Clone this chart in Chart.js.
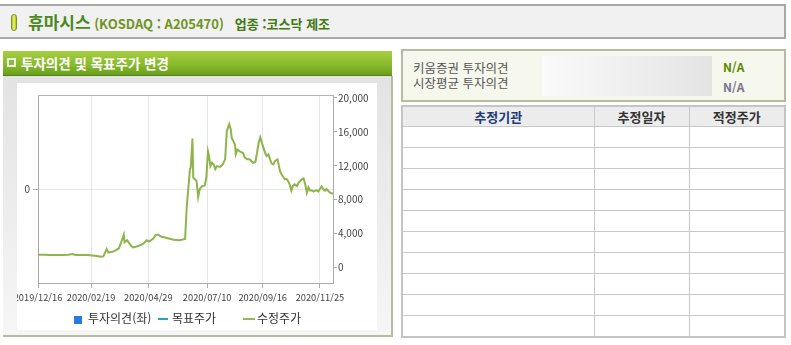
<!DOCTYPE html>
<html lang="ko">
<head>
<meta charset="utf-8">
<script src="https://cdn.jsdelivr.net/npm/chart.js@4.4.1/dist/chart.umd.min.js"></script>
<style>
  body { margin: 0; width: 791px; height: 345px; background: #fff; font-family: 'Noto Sans CJK KR', sans-serif; position: relative; overflow: hidden; }
  .abs { position: absolute; }
  #head { left: 0; top: 4px; width: 784px; height: 31px; background: #f1f1f1; border-top: 2px solid #a8a8a8; border-bottom: 2px solid #a8a8a8; border-right: 2px solid #a8a8a8; }
  #pill { left: 11px; top: 8px; width: 4px; height: 15px; border: 1px solid #7a9620; border-radius: 3px; background: linear-gradient(to right, #b5c832, #eef27a, #a9bf2a); }
  #title { left: 28px; top: 0; height: 31px; line-height: 31px; white-space: nowrap; font-weight: bold; }
  #greenbar { left: 3px; top: 51px; width: 389px; height: 24px; background: linear-gradient(#a6cf3f, #86b92c 60%, #6a9f1c); border-bottom: 1px solid #4f8012; }
  #sq { left: 4px; top: 7px; width: 5px; height: 5px; border: 2px solid #eef4dc; background: #8fba3f; }
  #gtext { left: 18px; top: 0; line-height: 24px; color: #fff; font-weight: bold; font-size: 13.5px; white-space: nowrap; }
  #panel { left: 3px; top: 76px; width: 388px; height: 259px; background: linear-gradient(#e3e3e3, #f6f6f6); border-right: 2px solid #b6bd9f; border-bottom: 2px solid #b6bd9f; }
  #chartbox { left: 17px; top: 83px; width: 360px; height: 247px; overflow: hidden; background: #fff; }
  #chartbox canvas { position: absolute; left: -17px; top: 0; }
  .leg { top: 311px; font-size: 12px; color: #333; line-height: 14px; white-space: nowrap; }
  #opbox { left: 401px; top: 49px; width: 381px; height: 49px; border: 2px solid #b6bd9f; background: #f6f8ee; }
  .optxt { left: 10px; font-size: 12.5px; color: #555; white-space: nowrap; line-height: 15px; }
  #gray { left: 139px; top: 5px; width: 170px; height: 40px; background: linear-gradient(to right, #fafafa, #e4e4e4); }
  .na { left: 320px; font-size: 12px; font-weight: bold; line-height: 14px; }
  table { position: absolute; left: 401px; top: 105px; width: 385px; border-collapse: collapse; border: 2px solid #c4c4c4; table-layout: fixed; }
  td, th { border: 1px solid #c8c8c8; height: 20px; padding: 0; }
  th { background: #ececec; font-size: 13px; font-weight: bold; color: #333; height: 19px; line-height: 18px; }
</style>
</head>
<body>
<div id="head" class="abs">
  <div id="pill" class="abs"></div>
  <div id="title" class="abs"><span style="font-size:17px;color:#4a8a1c;">휴마시스</span><span style="font-size:13px;color:#6f9424;"> (KOSDAQ : A205470)</span><span style="font-size:13px;color:#3f7a12;">&nbsp;&nbsp;&nbsp;업종 :코스닥 제조</span></div>
</div>

<div id="greenbar" class="abs">
  <div id="sq" class="abs"></div>
  <div id="gtext" class="abs">투자의견 및 목표주가 변경</div>
</div>
<div id="panel" class="abs"></div>
<div id="chartbox" class="abs"><canvas id="myChart" width="377" height="247"></canvas></div>

<div class="abs leg" style="left:74px;"><span style="display:inline-block;width:8px;height:8px;background:#2a7ae2;vertical-align:-1px;margin-right:6px;"></span>투자의견(좌)</div>
<div class="abs" style="left:158px;top:318px;width:10px;height:2px;background:#2aa5b8;"></div>
<div class="abs leg" style="left:172px;">목표주가</div>
<div class="abs" style="left:243px;top:318px;width:12px;height:2px;background:#9ab85a;"></div>
<div class="abs leg" style="left:257px;">수정주가</div>

<div id="opbox" class="abs">
  <div class="abs optxt" style="top:9px;">키움증권 투자의견</div>
  <div class="abs optxt" style="top:24px;">시장평균 투자의견</div>
  <div id="gray" class="abs"></div>
  <div class="abs na" style="top:9px;color:#5b8a00;">N/A</div>
  <div class="abs na" style="top:29px;color:#76768c;">N/A</div>
</div>

<table>
  <colgroup><col style="width:192px"><col style="width:95px"><col></colgroup>
  <tr><th style="color:#1d3b78;">추정기관</th><th>추정일자</th><th>적정주가</th></tr>
  <tr><td></td><td></td><td></td></tr>
  <tr><td></td><td></td><td></td></tr>
  <tr><td></td><td></td><td></td></tr>
  <tr><td></td><td></td><td></td></tr>
  <tr><td></td><td></td><td></td></tr>
  <tr><td></td><td></td><td></td></tr>
  <tr><td></td><td></td><td></td></tr>
  <tr><td></td><td></td><td></td></tr>
  <tr><td></td><td></td><td></td></tr>
  <tr><td></td><td></td><td></td></tr>
</table>

<script>
// price history (수정주가)
const dates = [
  '2019-12-16','2019-12-23','2019-12-31','2020-01-07','2020-01-14','2020-01-22','2020-01-27','2020-01-31',
  '2020-02-07','2020-02-14','2020-02-24','2020-03-02','2020-03-05','2020-03-06','2020-03-09','2020-03-11',
  '2020-03-16','2020-03-20','2020-03-24','2020-03-27','2020-03-30','2020-03-31','2020-04-03','2020-04-07',
  '2020-04-10','2020-04-16','2020-04-23','2020-04-27','2020-04-30','2020-05-05','2020-05-08','2020-05-11',
  '2020-05-15','2020-05-18','2020-05-24','2020-05-30','2020-06-06','2020-06-10','2020-06-13','2020-06-15',
  '2020-06-17','2020-06-19','2020-06-20','2020-06-22','2020-06-23','2020-06-25','2020-06-27','2020-06-29',
  '2020-07-01','2020-07-04','2020-07-07','2020-07-09','2020-07-11','2020-07-12','2020-07-14','2020-07-16',
  '2020-07-18','2020-07-20','2020-07-22','2020-07-26','2020-07-29','2020-08-01','2020-08-03','2020-08-05',
  '2020-08-06','2020-08-08','2020-08-09','2020-08-11','2020-08-13','2020-08-14','2020-08-16','2020-08-19',
  '2020-08-23','2020-08-25','2020-08-28','2020-08-31','2020-09-04','2020-09-07','2020-09-09','2020-09-11',
  '2020-09-13','2020-09-15','2020-09-17','2020-09-19','2020-09-21','2020-09-23','2020-09-25','2020-09-27',
  '2020-09-29','2020-10-01','2020-10-04','2020-10-05','2020-10-07','2020-10-09','2020-10-11','2020-10-13',
  '2020-10-15','2020-10-17','2020-10-19','2020-10-21','2020-10-23','2020-10-25','2020-10-28','2020-10-30',
  '2020-11-01','2020-11-03','2020-11-05','2020-11-07','2020-11-09','2020-11-11','2020-11-13','2020-11-15',
  '2020-11-17','2020-11-19','2020-11-21','2020-11-23','2020-11-25','2020-11-27','2020-11-29','2020-12-01',
  '2020-12-03','2020-12-05','2020-12-07','2020-12-09','2020-12-11'
];
const prices = [
  1500, 1480, 1450, 1470, 1460, 1500, 1560, 1450,
  1470, 1450, 1360, 1250, 1300, 1500, 2150, 1750,
  1830, 2000, 2250, 3000, 3850, 2950, 3200, 2650,
  2350, 2480, 2800, 3200, 3050, 3400, 3800, 3880,
  3600, 3550, 3400, 3250, 3200, 3280, 3350, 7090,
  9430, 11600, 11800, 15200, 10600, 10400, 10200, 8300,
  9250, 9600, 9650, 10600, 13700, 13300, 11950, 12350,
  12150, 11600, 11950, 11850, 12150, 12750, 16050, 16650,
  16900, 16250, 15300, 14900, 14500, 13350, 13900, 13700,
  13500, 12950, 12750, 12750, 12350, 12450, 13500, 14700,
  15350, 14700, 14100, 13500, 13150, 13350, 12750, 12250,
  12150, 12550, 12750, 12350, 11400, 11000, 10700, 10400,
  10450, 10200, 9800, 9050, 9650, 9800, 9600, 10000,
  10200, 10400, 10500, 9800, 8800, 9450, 9050, 9100,
  8950, 9050, 9100, 8950, 9250, 9550, 9250, 9050,
  9250, 9050, 8850, 8750, 8700
];
// no opinion / target price data in this period
const opinions = [];
const targetPrices = [];

const tickDates = ['2019/12/16', '2020/02/19', '2020/04/29', '2020/07/10', '2020/09/16', '2020/11/25'];
const priceTicks = [0, 4000, 8000, 12000, 16000, 20000];

// days since first date
const start = Date.UTC(2019, 11, 16);
function dayOf(s) {
  const p = s.split(/[-\/]/).map(Number);
  return Math.round((Date.UTC(p[0], p[1] - 1, p[2]) - start) / 86400000);
}
const tickDays = tickDates.map(dayOf);

function comma(v) {
  return String(v).replace(/\B(?=(\d{3})+(?!\d))/g, ',');
}

const tickFont = { family: 'Noto Sans CJK KR', size: 10 };

// top edge of the plot frame
const topLine = {
  id: 'topLine',
  beforeDatasetsDraw(c) {
    const a = c.chartArea;
    const g = c.ctx;
    g.save();
    g.strokeStyle = '#b4b4b4';
    g.lineWidth = 1;
    g.beginPath();
    g.moveTo(a.left, a.top + 0.5);
    g.lineTo(a.right, a.top + 0.5);
    g.stroke();
    g.restore();
  }
};

const ctx = document.getElementById('myChart');
const chart = new Chart(ctx, {
  type: 'line',
  data: {
    datasets: [{
      label: '수정주가',
      data: dates.map((d, i) => ({ x: dayOf(d), y: prices[i] })),
      yAxisID: 'yPrice',
      borderColor: '#8db54b',
      borderWidth: 2,
      pointRadius: 0,
      tension: 0
    }, {
      label: '목표주가',
      data: targetPrices,
      yAxisID: 'yPrice',
      borderColor: '#2aa5b8',
      borderWidth: 2,
      pointRadius: 0
    }, {
      label: '투자의견(좌)',
      data: opinions,
      yAxisID: 'yOpinion',
      borderColor: '#2a7ae2',
      pointRadius: 0
    }]
  },
  options: {
    responsive: false,
    animation: false,
    layout: { padding: { top: 12 } },
    plugins: { legend: { display: false }, tooltip: { enabled: false } },
    scales: {
      x: {
        type: 'linear',
        min: 0,
        max: dayOf(dates[dates.length - 1]),
        afterBuildTicks: s => { s.ticks = tickDays.map(v => ({ value: v })); },
        afterFit: s => { s.height = 47; },
        ticks: {
          autoSkip: false,
          maxRotation: 0,
          padding: 4,
          color: '#444',
          font: { family: 'Noto Sans CJK KR', size: 9.3 },
          callback: v => tickDates[tickDays.indexOf(v)]
        },
        grid: { color: '#e6e6e6', tickColor: '#aaa', tickLength: 5 },
        border: { color: '#aaa' }
      },
      yOpinion: {
        position: 'left',
        min: -1,
        max: 1,
        afterBuildTicks: s => { s.ticks = [{ value: 0 }]; },
        afterFit: s => { s.width = 38; },
        ticks: { padding: 3, color: '#444', font: tickFont },
        grid: { color: '#e6e6e6', tickColor: '#aaa', tickLength: 5 },
        border: { color: '#aaa' }
      },
      yPrice: {
        position: 'right',
        min: -1850,
        max: 20350,
        afterBuildTicks: s => { s.ticks = priceTicks.map(v => ({ value: v })); },
        afterFit: s => { s.width = 44; },
        ticks: { padding: 1, color: '#444', font: tickFont, callback: v => comma(v) },
        grid: { drawOnChartArea: false, tickColor: '#aaa', tickLength: 4 },
        border: { color: '#aaa' }
      }
    }
  },
  plugins: [topLine]
});
</script>
</body>
</html>
